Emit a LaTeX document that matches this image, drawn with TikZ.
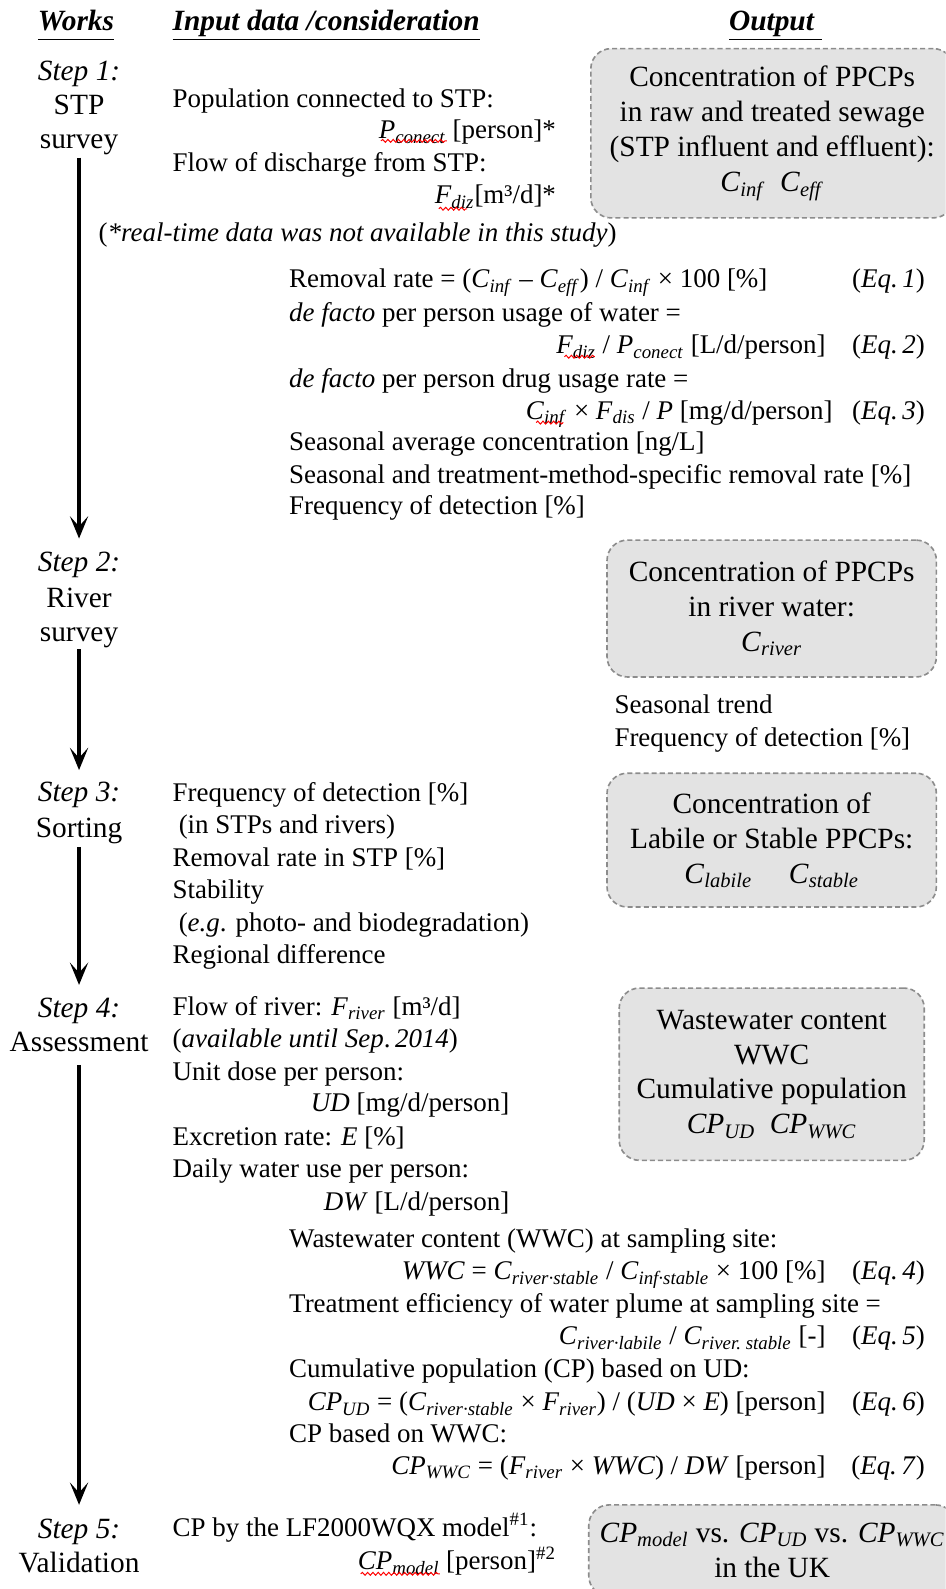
\documentclass[tikz,border=0pt]{standalone}
\usepackage{fontspec}
\setmainfont{Liberation Serif}
\usetikzlibrary{arrows.meta,decorations.pathmorphing}
\newcommand\sbs[1]{\textsubscript{\textit{#1}}}
\newcommand\hdr[1]{\underline{\textbf{\textit{#1}}\vphantom{p}}}
\begin{document}
\begin{tikzpicture}[x=0.5pt,y=-0.5pt,
  font=\fontsize{14.5}{16}\selectfont,
  txt/.style={inner sep=0pt, anchor=base west, font=\fontsize{13.3}{15}\selectfont},
  rtxt/.style={inner sep=0pt, anchor=base east, font=\fontsize{13.3}{15}\selectfont},
  hdrtxt/.style={inner sep=0pt, anchor=base west},
  steplbl/.style={inner sep=0pt, anchor=base},
  outbox/.style={draw=black!45, fill=black!11, dash pattern=on 2.5pt off 1.5pt,
    line width=0.8pt, rounded corners=10pt, align=center, inner sep=0pt,
    font=\fontsize{14.5}{17.25}\selectfont},
  flow/.style={line width=1.6pt, -{Stealth[length=11pt,width=9pt,inset=5pt]}},
  squig/.style={red, line width=0.5pt, decorate,
    decoration={snake, amplitude=0.7pt, segment length=2.6pt}}]
\useasboundingbox (0,0) rectangle (933,1568);
\path[clip] (0,0) rectangle (933,1568);

% headers
\node[hdrtxt] (h1) at (37,30) {\hdr{Works}};
\node[hdrtxt] (h2) at (170,30) {\hdr{Input data /consideration}};
\node[hdrtxt] (h3) at (719,30) {\hdr{Output\ }};

% step labels
\node[steplbl] (s1a) at (78,79) {\textit{Step 1:}};
\node[steplbl] (s1b) at (78,113) {STP};
\node[steplbl] (s1c) at (78,147) {survey};
\node[steplbl] (s2a) at (78,564) {\textit{Step 2:}};
\node[steplbl] (s2b) at (78,599) {River};
\node[steplbl] (s2c) at (78,633) {survey};
\node[steplbl] (s3a) at (78,791) {\textit{Step 3:}};
\node[steplbl] (s3b) at (78,826) {Sorting};
\node[steplbl] (s4a) at (78,1004) {\textit{Step 4:}};
\node[steplbl] (s4b) at (78,1038) {Assessment};
\node[steplbl] (s5a) at (78,1518) {\textit{Step 5:}};
\node[steplbl] (s5b) at (78,1552) {Validation};

\draw[flow, shorten <=1pt, shorten >=6.5pt] (s1c.south) -- (s2a.north);
\draw[flow, shorten <=0.5pt, shorten >=5.75pt] (s2c.south) -- (s3a.north);
\draw[flow, shorten <=1.5pt, shorten >=6.25pt] (s3b.south) -- (s4a.north);
\draw[flow, shorten <=6pt, shorten >=6.75pt] (s4b.south) -- (s5a.north);

% step 1 inputs
\node[txt] (a1) at (170,106) {Population connected to STP:};
\node[rtxt] (a2) at (549,137) {\textit{P}\sbs{conect} [person]*};
\node[txt] (a3) at (170,169) {Flow of discharge from STP:};
\node[rtxt] (a4) at (549,201) {\textit{F}\sbs{diz}[m³/d]*};
\node[txt] (a5) at (97,238) {(\textit{*real-time data was not available in this study})};

\node[txt] (e1) at (285,284) {Removal rate = (\textit{C}\sbs{inf} – \textit{C}\sbs{eff}) / \textit{C}\sbs{inf} × 100 [\%]};
\node[rtxt] (n1) at (913,284) {(\textit{Eq.\,1})};
\node[txt] (e2) at (285,317) {\textit{de facto} per person usage of water =};
\node[rtxt] (e3) at (815,349) {\textit{F}\sbs{diz} / \textit{P}\sbs{conect} [L/d/person]};
\node[rtxt] (n2) at (913,349) {(\textit{Eq.\,2})};
\node[txt] (e4) at (285,382) {\textit{de facto} per person drug usage rate =};
\node[rtxt] (e5) at (822,414) {\textit{C}\sbs{inf} × \textit{F}\sbs{dis} / \textit{P} [mg/d/person]};
\node[rtxt] (n3) at (913,414) {(\textit{Eq.\,3})};
\node[txt] (e6) at (285,445) {Seasonal average concentration [ng/L]};
\node[txt] (e7) at (285,477) {Seasonal and treatment-method-specific removal rate [\%]};
\node[txt] (e8) at (285,508) {Frequency of detection [\%]};

% step 2 outputs
\node[txt] (r1) at (606,704) {Seasonal trend};
\node[txt] (r2) at (606,737) {Frequency of detection [\%]};

% step 3 inputs
\node[txt] (b1) at (170,791) {Frequency of detection [\%]};
\node[txt] (b2) at (176,822) {(in STPs and rivers)};
\node[txt] (b3) at (170,855) {Removal rate in STP [\%]};
\node[txt] (b4) at (170,887) {Stability};
\node[txt] (b5) at (176,919) {(\textit{e.g}. photo- and biodegradation)};
\node[txt] (b6) at (170,951) {Regional difference};

% step 4 inputs
\node[txt] (c1) at (170,1002) {Flow of river: \textit{F}\sbs{river} [m³/d]};
\node[txt] (c2) at (170,1034) {(\textit{available until Sep}.\,\textit{2014})};
\node[txt] (c3) at (170,1066) {Unit dose per person:};
\node[rtxt] (c4) at (503,1097) {\textit{UD} [mg/d/person]};
\node[txt] (c5) at (170,1130) {Excretion rate: \textit{E} [\%]};
\node[txt] (c6) at (170,1162) {Daily water use per person:};
\node[rtxt] (c7) at (503,1194) {\textit{DW} [L/d/person]};

\node[txt] (d1) at (285,1231) {Wastewater content (WWC) at sampling site:};
\node[rtxt] (d2) at (815,1263) {\textit{WWC} = \textit{C}\sbs{river·stable} / \textit{C}\sbs{inf·stable} × 100 [\%]};
\node[rtxt] (m4) at (913,1263) {(\textit{Eq.\,4})};
\node[txt] (d3) at (285,1295) {Treatment efficiency of water plume at sampling site =};
\node[rtxt] (d4) at (815,1327) {\textit{C}\sbs{river·labile} / \textit{C}\sbs{river.\ stable} [-]};
\node[rtxt] (m5) at (913,1327) {(\textit{Eq.\,5})};
\node[txt] (d5) at (285,1359) {Cumulative population (CP) based on UD:};
\node[rtxt] (d6) at (815,1392) {\textit{CP}\sbs{UD} = (\textit{C}\sbs{river·stable} × \textit{F}\sbs{river}) / (\textit{UD} × \textit{E}) [person]};
\node[rtxt] (m6) at (913,1392) {(\textit{Eq.\,6})};
\node[txt] (d7) at (285,1423) {CP based on WWC:};
\node[rtxt] (d8) at (815,1455) {\textit{CP}\sbs{WWC} = (\textit{F}\sbs{river} × \textit{WWC}) / \textit{DW} [person]};
\node[rtxt] (m7) at (913,1455) {(\textit{Eq.\,7})};

% step 5 inputs
\node[txt] (f1) at (170,1516) {CP by the LF2000WQX model\textsuperscript{\#1}:};
\node[rtxt] (f2) at (549,1549) {\textit{CP}\sbs{model} [person]\textsuperscript{\#2}};

% output boxes
\node[outbox, minimum width=179pt, minimum height=83.5pt] (o1) at (762,131.5)
  {Concentration of PPCPs\\in raw and treated sewage\\(STP influent and effluent):\\\textit{C}\sbs{inf}\ \ \textit{C}\sbs{eff}};
\node[outbox, minimum width=162.5pt, minimum height=67.5pt] (o2) at (761.5,600.5)
  {Concentration of PPCPs\\in river water:\\\textit{C}\sbs{river}};
\node[outbox, minimum width=162.5pt, minimum height=66pt] (o3) at (761.5,829)
  {Concentration of\\Labile or Stable PPCPs:\\\textit{C}\sbs{labile}\quad\ \textit{C}\sbs{stable}};
\node[outbox, minimum width=150.5pt, minimum height=85pt] (o4) at (761.5,1060)
  {Wastewater content\\WWC\\Cumulative population\\\textit{CP}\sbs{UD}\ \ \textit{CP}\sbs{WWC}};
\node[outbox, minimum width=181pt, minimum height=45pt] (o5) at (762,1530)
  {\textit{CP}\sbs{model} vs. \textit{CP}\sbs{UD} vs. \textit{CP}\sbs{WWC}\\in the UK};

% spell-check squiggles
\draw[squig] (376,139) -- (441,139);
\draw[squig] (433,206) -- (461,206);
\draw[squig] (557,352) -- (587,352);
\draw[squig] (529,417) -- (556,417);
\draw[squig] (356,1553) -- (434,1553);
\end{tikzpicture}
\end{document}
